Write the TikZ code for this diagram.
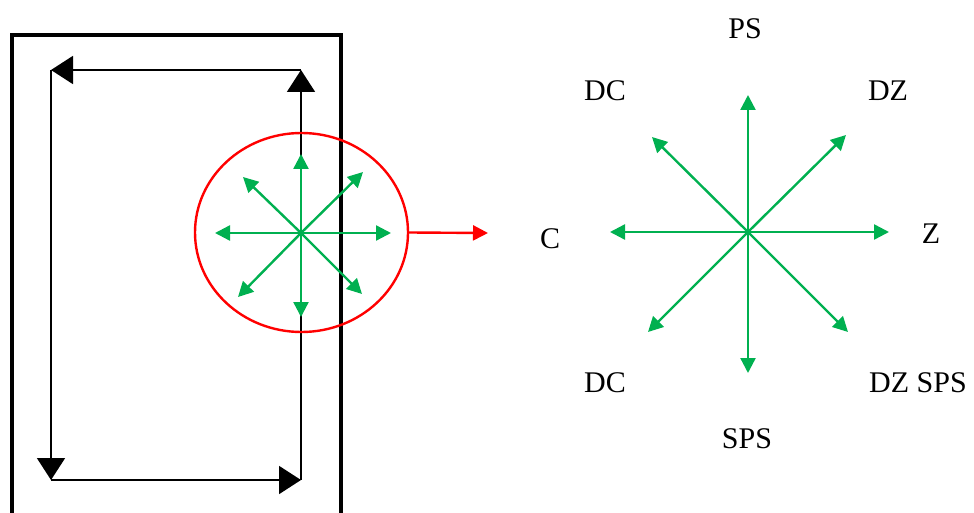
\documentclass[tikz,border=0pt]{standalone}
\usepackage{fontspec}
\setmainfont{Liberation Serif}
\usetikzlibrary{arrows.meta, shapes.geometric}

\definecolor{flowgreen}{RGB}{0,176,80}

\begin{document}
\begin{tikzpicture}[
  x=1pt, y=-1pt,
  frame/.style={line width=3.5pt},
  loopline/.style={line width=1.8pt, -{Triangle[length=22pt,width=28pt]}},
  greenarrow/.style={flowgreen, line width=2.4pt, -{Triangle[length=15pt,width=15pt]}},
  redarrow/.style={red, line width=2.4pt, -{Triangle[length=15pt,width=15pt]}},
  dirlabel/.style={font=\fontsize{30}{36}\selectfont, anchor=base, inner sep=0pt},
]
\useasboundingbox (0,0) rectangle (974,513);

% vessel
\draw[frame] (12,530) -- (12,35) -- (341,35) -- (341,530);

% circulation loop
\coordinate (br) at (301,480);
\coordinate (tr) at (301,70);
\coordinate (tl) at (51,70);
\coordinate (bl) at (51,480);
\draw[loopline] (br) -- (tr);
\draw[loopline] (tr) -- (tl);
\draw[loopline] (tl) -- (bl);
\draw[loopline] (bl) -- (br);

% zoomed region
\node[ellipse, draw=red, line width=2.4pt, minimum width=213pt,
      minimum height=199pt, inner sep=0pt] (zone) at (301.5,232.5) {};
\coordinate (zc) at (301,233);
\foreach \dx/\dy in {0/-79, 0/84, -86/0, 90/0, 62/-61, -58/-56, -63/64, 61/61}
  \draw[greenarrow] (zc) -- ++(\dx,\dy);
\coordinate (out) at (488,233);
\draw[redarrow] (zone.east) -- (out);

% direction star
\coordinate (sc) at (748,232);
\foreach \dx/\dy in {0/-137, 0/141, -138/0, 141/0, -96/-95, 98/-97, -100/100, 100/100}
  \draw[greenarrow] (sc) -- ++(\dx,\dy);

\node[dirlabel] (ps)    at (745,39)  {PS};
\node[dirlabel] (dcu)   at (605,101) {DC};
\node[dirlabel] (dz)    at (888,101) {DZ};
\node[dirlabel] (c)     at (550,248) {C};
\node[dirlabel] (z)     at (931,243) {Z};
\node[dirlabel] (dcd)   at (605,392) {DC};
\node[dirlabel] (dzsps) at (918,392) {DZ SPS};
\node[dirlabel] (sps)   at (747,448) {SPS};
\end{tikzpicture}
\end{document}
